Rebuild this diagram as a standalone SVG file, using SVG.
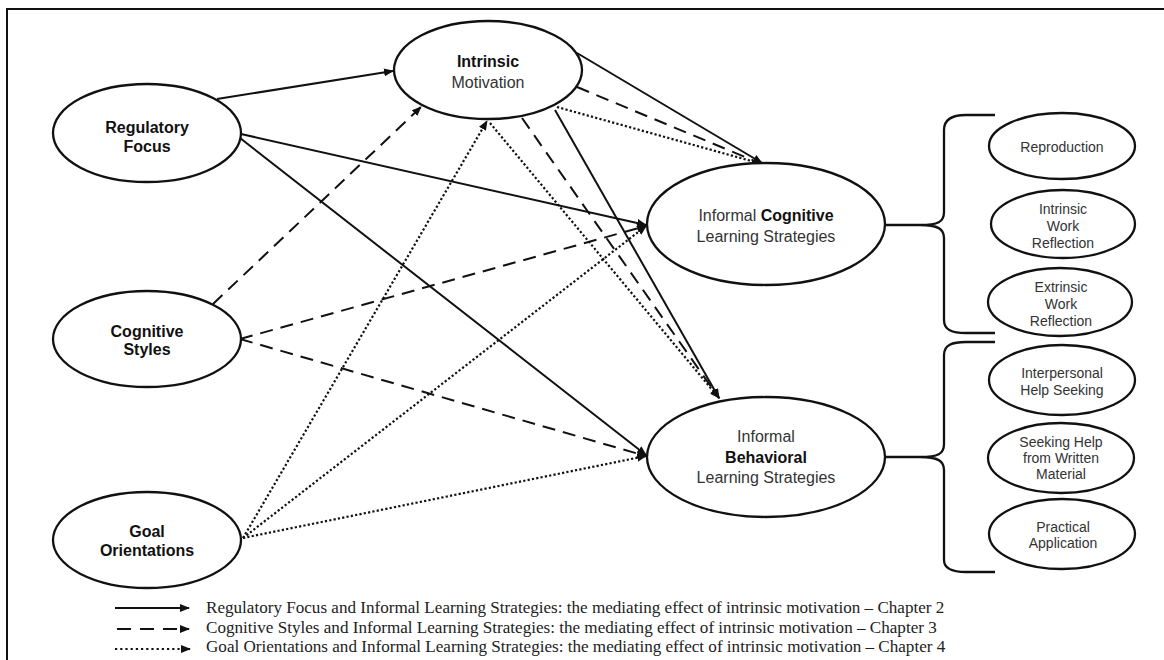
<svg xmlns="http://www.w3.org/2000/svg" width="1164" height="660" viewBox="0 0 1164 660">
  <style>
    .node { fill: #fff; stroke: #111; stroke-width: 2.3; }
    .big { font-family: "Liberation Sans", Arial, sans-serif; font-size: 16px; fill: #333; text-anchor: middle; }
    .big .b { font-weight: bold; fill: #111; }
    .small { font-family: "Liberation Sans", Arial, sans-serif; font-size: 14px; fill: #333; text-anchor: middle; }
    .edge { fill: none; stroke: #111; stroke-width: 2; }
    .dash { stroke-dasharray: 13 8; }
    .dot { stroke-width: 2.2; stroke-dasharray: 2.2 2.2; }
    .brace { fill: none; stroke: #111; stroke-width: 2.3; }
    .legend { font-family: "Liberation Serif", "Times New Roman", serif; font-size: 17.1px; fill: #222; }
  </style>
  <defs>
    <marker id="arrow" markerUnits="userSpaceOnUse" markerWidth="10" markerHeight="8" refX="9" refY="4" orient="auto">
      <path d="M0,0 L10,4 L0,8 z" fill="#111"/>
    </marker>
  </defs>

  <rect width="1164" height="660" fill="#fff"/>
  <!-- frame -->
  <path d="M7,660 L7,9 L1164,9" fill="none" stroke="#111" stroke-width="2"/>

  <!-- connectors -->
  <g id="connectors">
    <!-- Regulatory Focus paths (solid) -->
    <line class="edge" x1="217" y1="99" x2="393" y2="71" marker-end="url(#arrow)"/>
    <line class="edge" x1="241" y1="134" x2="646" y2="225" marker-end="url(#arrow)"/>
    <line class="edge" x1="240" y1="138" x2="646" y2="455" marker-end="url(#arrow)"/>
    <line class="edge" x1="577" y1="53" x2="762" y2="163" marker-end="url(#arrow)"/>
    <line class="edge" x1="555" y1="110" x2="719" y2="398" marker-end="url(#arrow)"/>
    <!-- Cognitive Styles paths (dashed) -->
    <line class="edge dash" x1="213" y1="304" x2="421" y2="107" marker-end="url(#arrow)"/>
    <line class="edge dash" x1="240" y1="339" x2="646" y2="226" marker-end="url(#arrow)"/>
    <line class="edge dash" x1="240" y1="339" x2="646" y2="456" marker-end="url(#arrow)"/>
    <line class="edge dash" x1="577" y1="87" x2="762" y2="164" marker-end="url(#arrow)"/>
    <line class="edge dash" x1="522" y1="118" x2="719" y2="398" marker-end="url(#arrow)"/>
    <!-- Goal Orientations paths (dotted) -->
    <line class="edge dot" x1="243" y1="538" x2="487" y2="121" marker-end="url(#arrow)"/>
    <line class="edge dot" x1="243" y1="538" x2="646" y2="226" marker-end="url(#arrow)"/>
    <line class="edge dot" x1="243" y1="538" x2="646" y2="456" marker-end="url(#arrow)"/>
    <line class="edge dot" x1="557" y1="107" x2="762" y2="164" marker-end="url(#arrow)"/>
    <line class="edge dot" x1="490" y1="123" x2="719" y2="398" marker-end="url(#arrow)"/>
  </g>

  <!-- antecedents -->
  <g id="regulatory-focus">
    <ellipse class="node" cx="147" cy="133" rx="94" ry="49"/>
    <text class="big"><tspan class="b" x="147" y="133">Regulatory</tspan><tspan class="b" x="147" y="152">Focus</tspan></text>
  </g>
  <g id="cognitive-styles">
    <ellipse class="node" cx="147" cy="339" rx="94" ry="48"/>
    <text class="big"><tspan class="b" x="147" y="337">Cognitive</tspan><tspan class="b" x="147" y="355">Styles</tspan></text>
  </g>
  <g id="goal-orientations">
    <ellipse class="node" cx="147" cy="540" rx="94" ry="48"/>
    <text class="big"><tspan class="b" x="147" y="537">Goal</tspan><tspan class="b" x="147" y="556">Orientations</tspan></text>
  </g>

  <!-- mediator -->
  <g id="intrinsic-motivation">
    <ellipse class="node" cx="488" cy="70" rx="94" ry="49"/>
    <text class="big"><tspan class="b" x="488" y="67">Intrinsic</tspan><tspan x="488" y="88">Motivation</tspan></text>
  </g>

  <!-- outcomes -->
  <g id="informal-cognitive">
    <ellipse class="node" cx="766" cy="224" rx="119" ry="61"/>
    <text class="big"><tspan x="766" y="221">Informal <tspan class="b">Cognitive</tspan></tspan><tspan x="766" y="242">Learning Strategies</tspan></text>
  </g>
  <g id="informal-behavioral">
    <ellipse class="node" cx="766" cy="457" rx="119" ry="60"/>
    <text class="big"><tspan x="766" y="442">Informal</tspan><tspan class="b" x="766" y="463">Behavioral</tspan><tspan x="766" y="483">Learning Strategies</tspan></text>
  </g>

  <!-- braces -->
  <g id="brace-cognitive">
    <path class="brace" d="M885,225 L920,225 C938,225 944,222 944,212 L944,130 C944,119 952,115 966,115 L995,115 M920,225 C938,225 944,229 944,238 L944,320 C944,330 952,333 966,333 L995,333"/>
  </g>
  <g id="brace-behavioral">
    <path class="brace" d="M885,457 L920,457 C938,457 944,454 944,444 L944,355 C944,345 952,342 966,342 L995,342 M920,457 C938,457 944,461 944,470 L944,560 C944,569 952,572 966,572 L995,572"/>
  </g>

  <!-- cognitive strategy facets -->
  <g id="reproduction">
    <ellipse class="node" cx="1062" cy="146" rx="73" ry="33"/>
    <text class="small" x="1062" y="152">Reproduction</text>
  </g>
  <g id="intrinsic-work-reflection">
    <ellipse class="node" cx="1063" cy="224" rx="72" ry="34"/>
    <text class="small"><tspan x="1063" y="214">Intrinsic</tspan><tspan x="1063" y="231">Work</tspan><tspan x="1063" y="248">Reflection</tspan></text>
  </g>
  <g id="extrinsic-work-reflection">
    <ellipse class="node" cx="1060" cy="302" rx="72" ry="34"/>
    <text class="small"><tspan x="1061" y="292">Extrinsic</tspan><tspan x="1061" y="309">Work</tspan><tspan x="1061" y="326">Reflection</tspan></text>
  </g>

  <!-- behavioral strategy facets -->
  <g id="interpersonal-help-seeking">
    <ellipse class="node" cx="1062" cy="380" rx="73" ry="35"/>
    <text class="small"><tspan x="1062" y="378">Interpersonal</tspan><tspan x="1062" y="395">Help Seeking</tspan></text>
  </g>
  <g id="seeking-help-written">
    <ellipse class="node" cx="1061" cy="458" rx="73" ry="35"/>
    <text class="small"><tspan x="1061" y="447">Seeking Help</tspan><tspan x="1061" y="463">from Written</tspan><tspan x="1061" y="479">Material</tspan></text>
  </g>
  <g id="practical-application">
    <ellipse class="node" cx="1062" cy="534" rx="73" ry="35"/>
    <text class="small"><tspan x="1063" y="532">Practical</tspan><tspan x="1063" y="548">Application</tspan></text>
  </g>

  <!-- legend -->
  <g id="legend">
    <line class="edge" x1="115" y1="608" x2="189" y2="608" marker-end="url(#arrow)"/>
    <line class="edge dash" x1="117" y1="629" x2="189" y2="629" style="stroke-dasharray: 14 9" marker-end="url(#arrow)"/>
    <line class="edge dot" x1="115" y1="649" x2="190" y2="649" style="stroke-dasharray: 2.2 3" marker-end="url(#arrow)"/>
    <text class="legend" x="206" y="613">Regulatory Focus and Informal Learning Strategies: the mediating effect of intrinsic motivation – Chapter 2</text>
    <text class="legend" x="206" y="633">Cognitive Styles and Informal Learning Strategies: the mediating effect of intrinsic motivation – Chapter 3</text>
    <text class="legend" x="206" y="652">Goal Orientations and Informal Learning Strategies: the mediating effect of intrinsic motivation – Chapter 4</text>
  </g>
</svg>
